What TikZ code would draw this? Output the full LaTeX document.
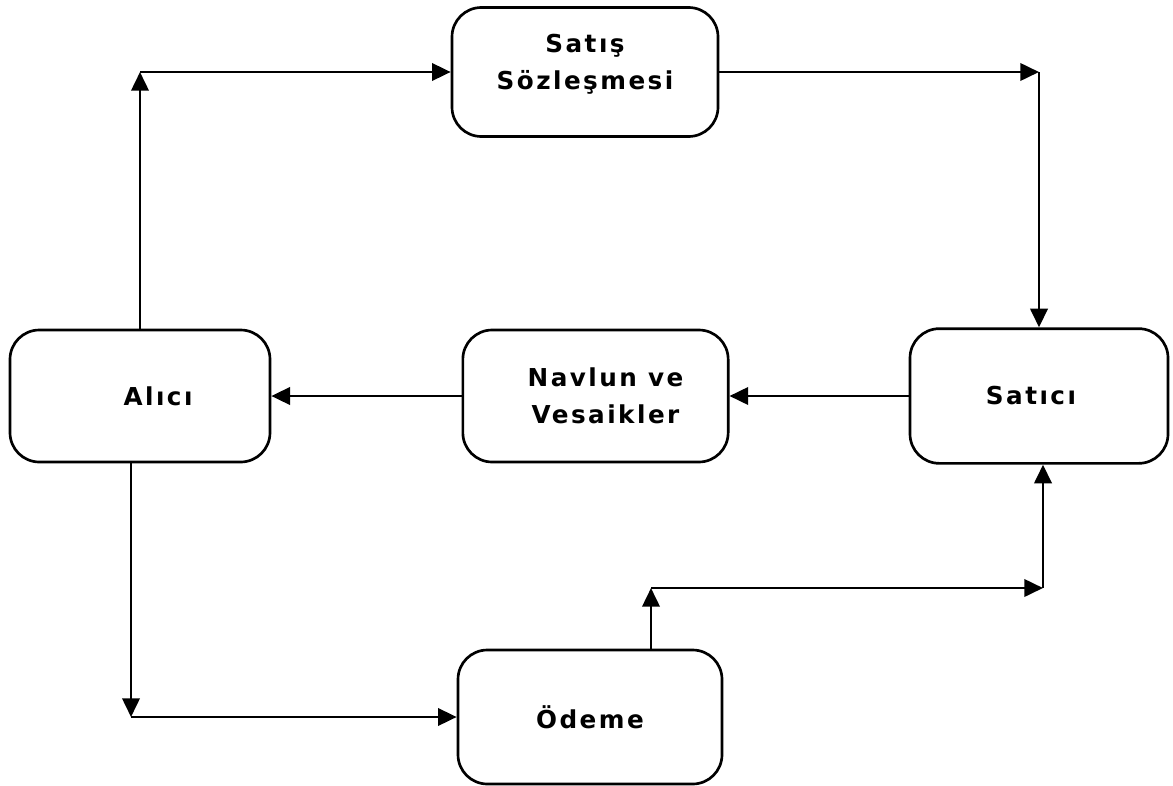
\documentclass[tikz,border=0pt]{standalone}
\usepackage{fontspec}
\usetikzlibrary{arrows.meta}
\newfontfamily\boxfont{DejaVu Sans}[LetterSpace=10]

\tikzset{every picture/.style={line width=2pt}}

\begin{document}
\begin{tikzpicture}[x=0.75pt,y=0.75pt,yscale=-1,xscale=1,
  box/.style={draw, rounded corners=22pt, align=center, inner sep=0pt,
    font=\boxfont\bfseries\fontsize{18.5}{27.75}\selectfont},
  arr/.style={-{Triangle[length=14pt,width=13pt]}}]
\path (0,0) rectangle (1173,784); %set diagram size 1173 x 784

% Boxes
\node [box, minimum width=199.5pt, minimum height=96.75pt] (sales) at (585,72) {Satış\\Sözleşmesi\rule[-15pt]{0pt}{15pt}};
\node [box, minimum width=195pt, minimum height=99pt] (buyer) at (140,396) {\hspace{27pt}Alıcı};
\node [box, minimum width=199pt, minimum height=99pt] (docs) at (595.5,396) {\hspace{15pt}Navlun ve\\\hspace{15pt}Vesaikler};
\node [box, minimum width=193.5pt, minimum height=101pt] (seller) at (1039,396) {Satıcı\hspace{12pt}};
\node [box, minimum width=198pt, minimum height=100.5pt] (pay) at (590,717) {Ödeme};

% Corners of the connectors
\coordinate (c1) at (buyer.north |- sales.west);
\coordinate (c2) at (sales.east -| seller.north);
\coordinate (c3) at (131,717);
\coordinate (c4) at (651,588);
\coordinate (c5) at (1043,588);

% Connectors
\draw [arr] (buyer.north) -- (c1);
\draw [arr] (c1) -- (sales.west);
\draw [arr] (sales.east) -- (c2);
\draw [arr] (c2) -- (seller.north);
\draw [arr] (seller.west) -- (docs.east);
\draw [arr] (docs.west) -- (buyer.east);
\draw [arr] (buyer.south -| c3) -- (c3);
\draw [arr] (c3) -- (pay.west);
\draw [arr] (pay.north -| c4) -- (c4);
\draw [arr] (c4) -- (c5);
\draw [arr] (c5) -- (seller.south -| c5);

\end{tikzpicture}
\end{document}
